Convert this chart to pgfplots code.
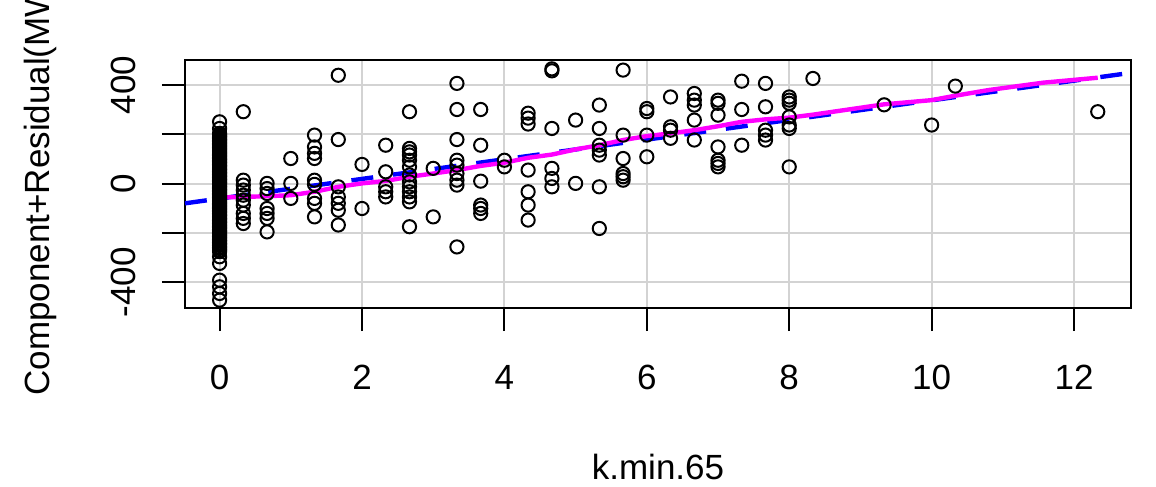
\documentclass[border=0pt]{standalone}
\usepackage{fontspec}
\setmainfont{Liberation Sans}
\usepackage{pgfplots}
\pgfplotsset{compat=1.18}
\definecolor{rblue}{RGB}{0,0,255}
\definecolor{rmag}{RGB}{255,0,255}
\definecolor{rgrid}{RGB}{211,211,211}
\newcommand{\lbl}{\fontsize{17.5}{21}\selectfont}
\begin{document}
\begin{tikzpicture}
\begin{axis}[
  scale only axis, width=473pt, height=124pt,
  xmin=-0.486, xmax=12.80, ymin=-505, ymax=502,
  axis line style={line width=1.2pt},
  xtick={0,2,4,6,8,10,12}, xticklabels={0,2,4,6,8,10,12},
  ytick={-400,-200,0,200,400}, yticklabels={-400,,0,,400},
  xtick pos=lower, ytick pos=left,
  tick align=outside, major tick length=11.5pt,
  tick style={black, line width=1pt},
  grid=major, grid style={rgrid, line width=1pt},
  xticklabel style={font=\lbl, anchor=center},
  yticklabel style={font=\lbl, anchor=center, rotate=90},
  xticklabel shift=23pt, yticklabel shift=19.5pt,
  xlabel={k.min.65}, ylabel={Component+Residual(MW)},
  every axis x label/.style={at={(axis description cs:0.5,-0.641)}, anchor=center, font=\lbl},
  every axis y label/.style={at={(axis description cs:-0.1533,0.5)}, anchor=center, rotate=90, font=\lbl},
]
\addplot[only marks, mark=o, mark size=3.3pt, mark options={line width=1pt, black}] table {
x y
0 -473
0 -446
0 -419
0 -392
0 -324
0 -297
0 -276
0 -270
0 -263
0 -258
0 -251
0 -245
0 -240
0 -233
0 -228
0 -221
0 -215
0 -210
0 -203
0 -197
0 -192
0 -186
0 -179
0 -174
0 -168
0 -161
0 -156
0 -150
0 -144
0 -139
0 -132
0 -127
0 -121
0 -114
0 -109
0 -102
0 -97
0 -91
0 -85
0 -80
0 -73
0 -68
0 -61
0 -56
0 -50
0 -44
0 -39
0 -32
0 -27
0 -21
0 -15
0 -10
0 -3
0 2
0 8
0 14
0 19
0 26
0 31
0 37
0 43
0 48
0 55
0 60
0 66
0 72
0 77
0 84
0 89
0 95
0 101
0 106
0 113
0 118
0 124
0 130
0 135
0 142
0 147
0 153
0 159
0 164
0 171
0 176
0 182
0 188
0 193
0 199
0 204
0 224
0 251
0.333 292
0.333 14
0.333 -6
0.333 -26
0.333 -47
0.333 -67
0.333 -87
0.333 -121
0.333 -141
0.333 -162
0.667 1
0.667 -20
0.667 -40
0.667 -101
0.667 -121
0.667 -141
0.667 -196
1 102
1 1
1 -60
1.333 197
1.333 149
1.333 123
1.333 102
1.333 14
1.333 -3
1.333 -60
1.333 -80
1.333 -135
1.667 440
1.667 179
1.667 -13
1.667 -54
1.667 -80
1.667 -108
1.667 -168
2 78
2 -101
2.333 156
2.333 48
2.333 -13
2.333 -33
2.333 -54
2.667 292
2.667 143
2.667 129
2.667 116
2.667 95
2.667 68
2.667 35
2.667 7
2.667 -13
2.667 -33
2.667 -54
2.667 -74
2.667 -175
3 62
3 -135
3.333 407
3.333 301
3.333 179
3.333 95
3.333 75
3.333 41
3.333 14
3.333 -6
3.333 -257
3.667 301
3.667 156
3.667 10
3.667 -87
3.667 -101
3.667 -121
4 95
4 68
4.333 286
4.333 266
4.333 242
4.333 55
4.333 -33
4.333 -87
4.333 -148
4.667 466
4.667 458
4.667 224
4.667 62
4.667 21
4.667 -13
5 258
5 1
5.333 319
5.333 224
5.333 156
5.333 136
5.333 116
5.333 -13
5.333 -182
5.667 461
5.667 197
5.667 102
5.667 41
5.667 28
5.667 14
6 305
6 292
6 197
6 109
6.333 352
6.333 231
6.333 217
6.333 184
6.667 366
6.667 339
6.667 319
6.667 258
6.667 177
7 339
7 326
7 278
7 149
7 95
7 82
7 68
7.333 416
7.333 301
7.333 156
7.667 407
7.667 312
7.667 217
7.667 197
7.667 177
8 352
8 339
8 326
8 271
8 238
8 224
8 68
8.333 427
9.333 320
10 238
10.333 396
12.333 292
};
\addplot[rblue, line width=2.2pt, dash pattern=on 11pt off 10pt] coordinates {(-0.486,-80) (12.80,450)};
\addplot[rmag, line width=2.2pt] coordinates {
(0,-56) (0.333,-54) (0.667,-51) (1,-47) (1.333,-33) (1.667,-13) (2,1) (2.333,11)
(2.667,28) (3,41) (3.333,55) (3.667,72) (4,85) (4.333,105) (4.667,118) (5,139)
(5.333,156) (5.667,177) (6,193) (6.333,204) (6.667,217) (7,233) (7.333,251)
(7.667,261) (8,268) (8.333,280) (9.333,322) (10,339) (10.333,357) (10.8,380)
(11.57,410) (12.333,430)};
\coordinate (SW) at (rel axis cs:0,0);
\coordinate (NE) at (rel axis cs:1,1);
\end{axis}
\pgfresetboundingbox
\path[use as bounding box] ([shift={(-92.5pt,-89.5pt)}]SW) rectangle ([shift={(12.5pt,30pt)}]NE);
\end{tikzpicture}
\end{document}
